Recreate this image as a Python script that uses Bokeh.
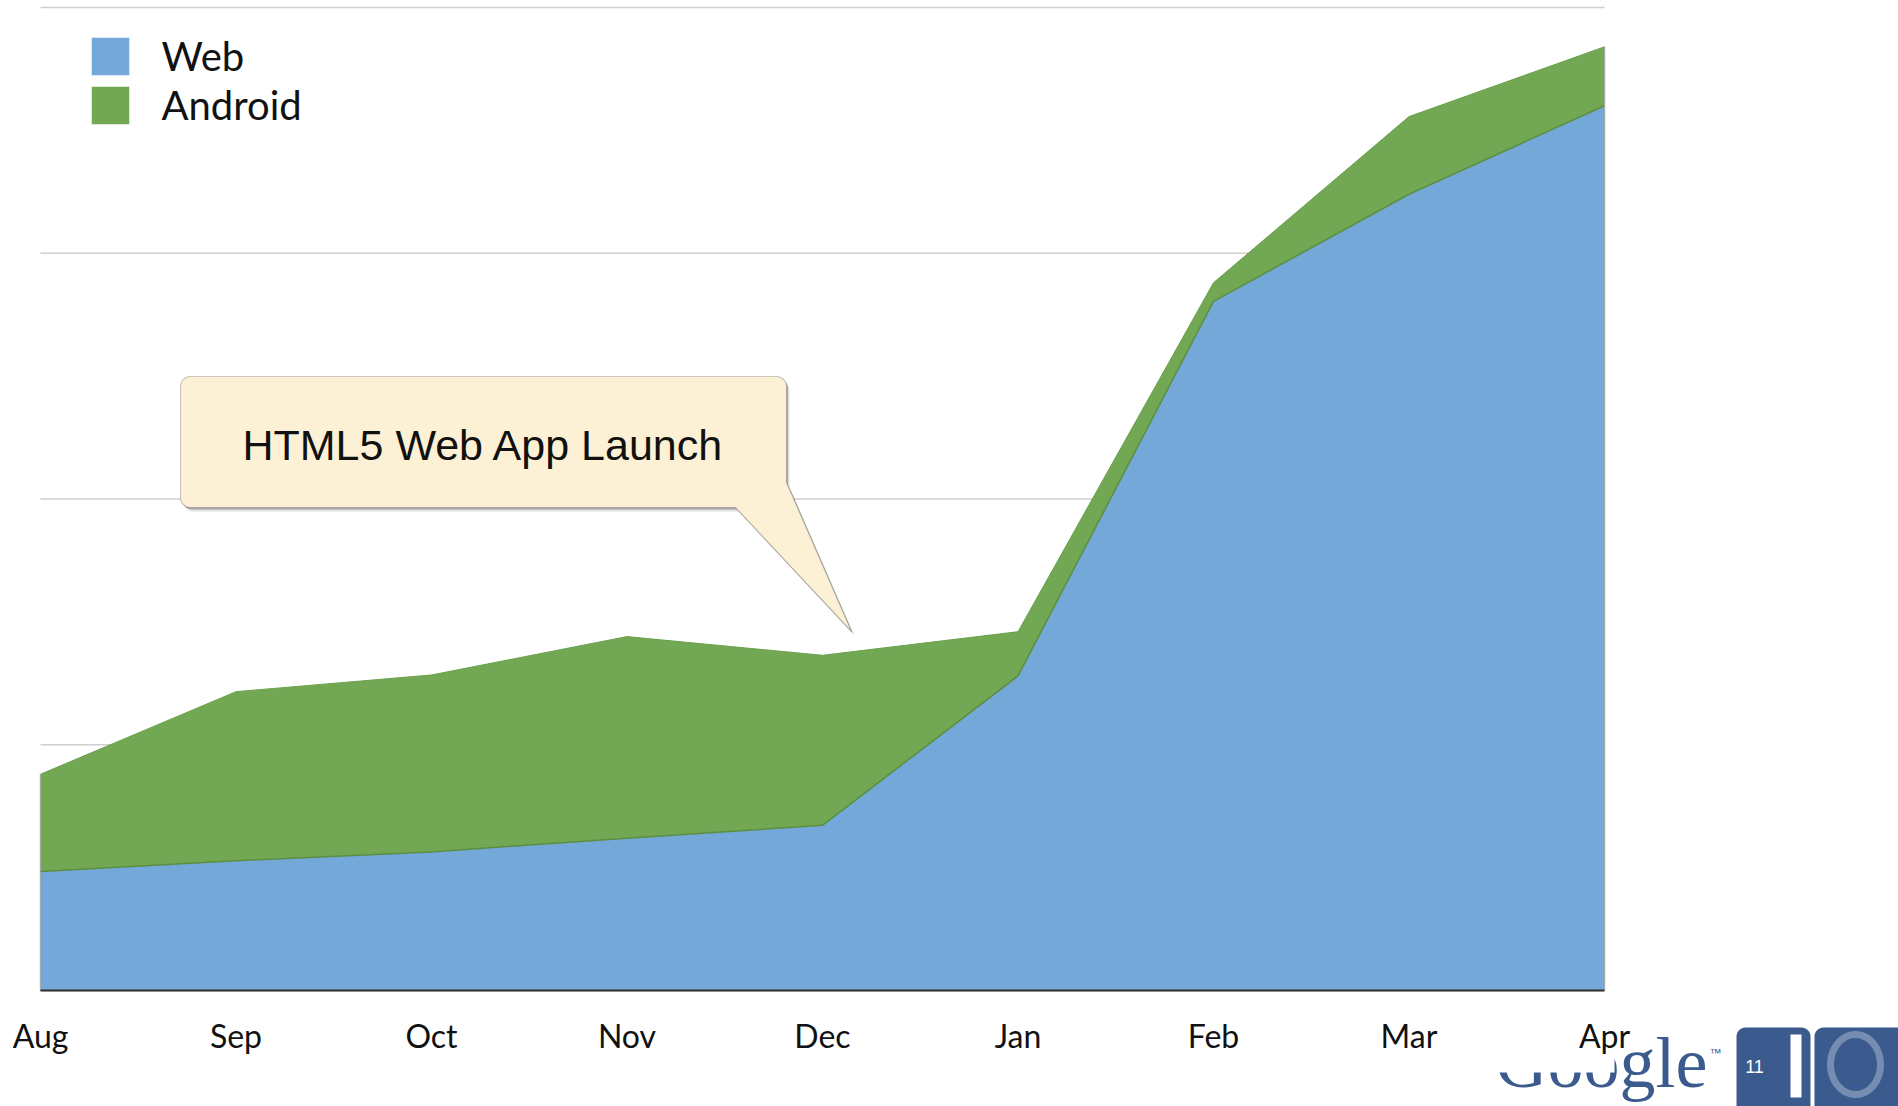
import math
from bokeh.plotting import figure
from bokeh.models import ColumnDataSource, Range1d, FixedTicker, PolyAnnotation, Label
from bokeh.embed import file_html
from bokeh.resources import INLINE

# ---- data ----
months = ["Aug", "Sep", "Oct", "Nov", "Dec", "Jan", "Feb", "Mar", "Apr"]
web = [12.1, 13.2, 14.1, 15.5, 16.8, 32.0, 70.1, 81.0, 90.0]
android = [9.9, 17.2, 18.0, 20.5, 17.3, 4.5, 1.9, 7.9, 6.0]
grid_ticks = [0, 25, 50, 75, 100]
callout_text = "HTML5 Web App Launch"

BLUE = "#74a8d8"
GREEN = "#72a853"
LOGO = "#3b5b8e"

W, H = 1898, 1106
# where the data area sits on the canvas (px)
X0PX, X1PX = 40, 1604     # x = first / last month
Y0PX, Y1PX = 990, 7       # y = 0 / y = 100

x = list(range(len(months)))
total = [w + a for w, a in zip(web, android)]
src = ColumnDataSource(dict(x=x, web=web, android=android, total=total))

nx = len(months) - 1
kx = (X1PX - X0PX) / nx
ky = (Y0PX - Y1PX) / 100.0
xr = Range1d(-X0PX / kx, (W - X0PX) / kx)
yr = Range1d(-(H - Y0PX) / ky, 100 + Y1PX / ky)

p = figure(width=W, height=H, output_backend="svg", toolbar_location=None,
           x_range=xr, y_range=yr,
           min_border_left=0, min_border_top=0, min_border_right=0, min_border_bottom=0)
p.outline_line_color = None
p.background_fill_color = "white"
p.border_fill_color = "white"

# horizontal grid lines, only across the data span
p.xgrid.visible = False
p.ygrid.visible = False
p.segment(x0=[x[0]] * len(grid_ticks), x1=[x[-1]] * len(grid_ticks), y0=grid_ticks, y1=grid_ticks,
          color="#cfcfcf", line_width=1.5, level="underlay")

p.varea_stack(["web", "android"], x="x", color=[BLUE, GREEN], source=src)
p.line("x", "web", source=src, color="#5a8f41", line_width=1.5)
p.line("x", "total", source=src, color="#6aa04c", line_width=1)
p.segment(x0=[x[0], x[-1]], y0=[0, 0], x1=[x[0], x[-1]], y1=[total[0], total[-1]],
          color="#9a9a9a", line_width=1.5, line_alpha=0.7)

p.yaxis.visible = False

ax = p.xaxis[0]
ax.fixed_location = 0
ax.bounds = (0, nx)
ax.ticker = FixedTicker(ticks=x)
ax.major_label_overrides = {i: m for i, m in zip(x, months)}
ax.axis_line_color = "#2e2e2e"
ax.axis_line_width = 2
ax.major_tick_line_color = None
ax.minor_tick_line_color = None
ax.major_tick_out = 0
ax.major_tick_in = 0
ax.major_label_text_font = "Lato"
ax.major_label_text_font_size = "32px"
ax.major_label_text_color = "#111111"
ax.major_label_standoff = 25


def sx(px):
    return px


def sy(py):
    return H - py


def poly(pts, **kw):
    a = PolyAnnotation(xs=[sx(u) for u, v in pts], ys=[sy(v) for u, v in pts],
                       xs_units="screen", ys_units="screen", **kw)
    p.add_layout(a)
    return a


def arc(cx, cy, r, a0, a1, n=8):
    out = []
    for i in range(n + 1):
        t = math.radians(a0 + (a1 - a0) * i / n)
        out.append((cx + r * math.cos(t), cy + r * math.sin(t)))
    return out


def rrect(l, t, r, b, rad):
    return (arc(l + rad, t + rad, rad, 180, 270) + arc(r - rad, t + rad, rad, 270, 360)
            + arc(r - rad, b - rad, rad, 0, 90) + arc(l + rad, b - rad, rad, 90, 180))


# ---- callout ----
bl, bt, br, bb, rad = 180, 376, 786, 507, 10
outline = (arc(bl + rad, bt + rad, rad, 180, 270) + arc(br - rad, bt + rad, rad, 270, 360)
           + [(br, 482), (851, 631), (735, bb)] + arc(bl + rad, bb - rad, rad, 90, 180))
poly([(u + 3, v + 4) for u, v in outline], fill_color="#000000", fill_alpha=0.12, line_alpha=0)
poly([(u + 1.5, v + 2) for u, v in outline], fill_color="#000000", fill_alpha=0.25, line_alpha=0)
poly(outline, fill_color="#fdf1d5", fill_alpha=1, line_color="#555555", line_width=1.2)
p.add_layout(Label(x=sx(483), y=sy(444), x_units="screen", y_units="screen", text=callout_text,
                   text_font="Liberation Sans", text_font_size="43px", text_color="#111111",
                   text_align="center", text_baseline="middle"))

# ---- legend ----
for (name, col, top) in [("Web", BLUE, 37), ("Android", GREEN, 86)]:
    poly([(91, top), (129, top), (129, top + 38), (91, top + 38)], fill_color=col, fill_alpha=1,
         line_color="#ffffff", line_alpha=0.5, line_width=1)
    p.add_layout(Label(x=sx(161), y=sy(top + 18), x_units="screen", y_units="screen", text=name,
                       text_font="Lato", text_font_size="40px", text_color="#111111",
                       text_baseline="middle"))

# ---- Google I/O logo ----
p.add_layout(Label(x=sx(1707), y=sy(1062), x_units="screen", y_units="screen", text="Google",
                   text_font="Liberation Serif", text_font_size="72px", text_color=LOGO,
                   text_align="right", text_baseline="middle", level="underlay"))
p.add_layout(Label(x=sx(1709), y=sy(1052), x_units="screen", y_units="screen", text="™",
                   text_font="Liberation Sans", text_font_size="12px", text_color=LOGO,
                   text_baseline="middle", level="underlay"))
poly([(1490, 995), (1614, 995), (1614, 1072), (1490, 1072)], fill_color="#ffffff",
     fill_alpha=1, line_alpha=0, level="underlay")
poly(rrect(1736, 1027, 1810, 1140, 9), fill_color=LOGO, fill_alpha=1, line_alpha=0)
poly(rrect(1814, 1027, 1906, 1140, 9), fill_color=LOGO, fill_alpha=1, line_alpha=0)
p.add_layout(Label(x=sx(1754), y=sy(1066), x_units="screen", y_units="screen", text="11",
                   text_font="Liberation Sans", text_font_size="18px", text_color="#ffffff",
                   text_align="center", text_baseline="middle"))
poly([(1790, 1034), (1801, 1034), (1801, 1097), (1790, 1097)], fill_color="#ffffff",
     fill_alpha=1, line_alpha=0)
ell = [(1855 + 25 * math.cos(math.radians(a)), 1064 + 30 * math.sin(math.radians(a)))
       for a in range(0, 360, 6)]
poly(ell, fill_alpha=0, line_color="#ffffff", line_width=7)

open("out.html", "w").write(file_html(p, INLINE))
